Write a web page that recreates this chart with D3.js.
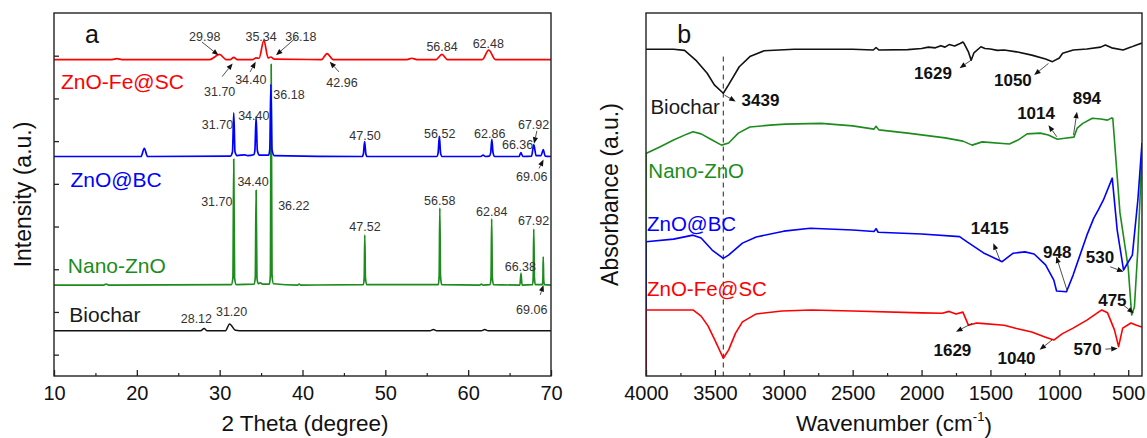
<!DOCTYPE html>
<html>
<head>
<meta charset="utf-8">
<script src="https://cdn.jsdelivr.net/npm/d3@7"></script>
<style>
  body { margin: 0; background: #fff; }
  svg { display: block; }
  text { font-family: "Liberation Sans", Arial, sans-serif; }
</style>
</head>
<body>
<svg id="chart" width="1147" height="438"></svg>
<script>
// ---------- (a) XRD patterns: [2-theta, intensity a.u.] ----------
const xrdBiochar = [[10,56],[27.7,56],[28.12,61],[28.5,56],[30.7,56],[31.2,72],[31.9,57],[32.4,56],
  [55.4,56],[55.8,59],[56.2,56],[61.6,56],[62.0,59],[62.4,56],[70,56]];
const xrdNanoZnO = [[10,163],[16.0,163],[16.3,165],[16.6,163],[31.4,164],[31.6,180],[31.7,458],[31.8,180],[32.0,164],
  [34.15,165],[34.3,180],[34.4,385],[34.5,180],[34.65,166],[34.9,168],[35.2,165],[36.0,165],[36.12,185],[36.22,680],
  [36.32,185],[36.5,166],[39.4,163],[39.6,165],[39.8,163],[47.35,164],[47.45,180],[47.52,280],[47.6,180],[47.75,164],
  [56.4,164],[56.5,185],[56.58,343],[56.66,185],[56.8,164],[61.4,163],[61.6,165],[61.8,163],[62.65,164],[62.76,180],
  [62.84,318],[62.92,180],[63.05,164],[66.25,163],[66.38,191],[66.5,163],[67.78,164],[67.85,180],[67.92,294],[68.0,180],
  [68.1,164],[68.95,164],[69.02,175],[69.06,229],[69.12,175],[69.2,164],[70,163]];
const xrdZnOBC = [[10,464],[20.5,464],[20.9,483],[21.3,464],[31.3,465],[31.55,475],[31.7,566],[31.85,475],[32.1,466],
  [33.0,468],[33.4,466],[34.1,468],[34.25,478],[34.4,557],[34.55,478],[34.8,467],[35.9,467],[36.05,480],[36.18,633],
  [36.32,480],[36.6,466],[47.2,464],[47.35,470],[47.5,499],[47.65,470],[47.8,464],[56.2,464],[56.37,472],[56.52,511],
  [56.67,472],[56.85,464],[61.5,464],[61.8,467],[62.1,464],[62.55,465],[62.72,473],[62.86,504],[63.0,473],[63.2,464],
  [66.15,464],[66.36,473],[66.6,464],[67.65,465],[67.92,492],[68.2,466],[68.8,466],[69.06,480],[69.3,465],[70,464]];
const xrdZnOFeSC = [[10,691],[17.0,691],[17.6,693],[18.2,691],[28.8,691],[29.98,703],[30.8,691],[31.3,691],[31.7,696],
  [32.1,691],[34.0,691],[34.4,695],[34.75,694],[35.34,736],[35.85,695],[36.18,697],[36.6,692],[42.3,691],[42.96,705],
  [43.7,691],[52.6,691],[53.2,694],[53.8,691],[56.1,691],[56.84,703],[57.5,691],[61.7,691],[62.48,713],[63.3,691],[70,691]];

const xrdSeriesNames = ["Biochar", "Nano-ZnO", "ZnO@BC", "ZnO-Fe@SC"];
const xrdXTicks = [10, 20, 30, 40, 50, 60, 70];
const xrdYTicks = [0, 100, 200, 300, 400, 500, 600, 700];

// peak annotations: text, label position, optional arrow [from, to]
const xrdNotes = [
  { t: "29.98", x: 28.2, y: 746, a: [[27.86, 732], [29.87, 701]] },
  { t: "35.34", x: 35.0, y: 746 },
  { t: "36.18", x: 39.8, y: 746, a: [[39.26, 743], [36.8, 701]] },
  { t: "56.84", x: 56.85, y: 722 },
  { t: "62.48", x: 62.43, y: 729 },
  { t: "31.70", x: 30.0, y: 616, a: [[30.3, 651], [31.57, 682]] },
  { t: "34.40", x: 33.76, y: 645, a: [[33.67, 662], [34.35, 686]] },
  { t: "42.96", x: 44.77, y: 638, a: [[44.41, 662], [43.29, 686]] },
  { t: "31.70", x: 29.74, y: 538 },
  { t: "34.40", x: 34.12, y: 559 },
  { t: "36.18", x: 38.37, y: 610 },
  { t: "47.50", x: 47.54, y: 512 },
  { t: "56.52", x: 56.57, y: 519 },
  { t: "62.86", x: 62.6, y: 519 },
  { t: "67.92", x: 67.9, y: 540, a: [[68.3, 524], [67.95, 494]] },
  { t: "66.36", x: 65.97, y: 491 },
  { t: "69.06", x: 67.67, y: 417, a: [[68.56, 436], [69.1, 457]] },
  { t: "31.70", x: 29.65, y: 358 },
  { t: "34.40", x: 34.03, y: 405 },
  { t: "36.22", x: 38.95, y: 350 },
  { t: "47.52", x: 47.54, y: 300 },
  { t: "56.58", x: 56.57, y: 362 },
  { t: "62.84", x: 62.84, y: 335 },
  { t: "67.92", x: 67.9, y: 314 },
  { t: "66.38", x: 66.3, y: 206 },
  { t: "69.06", x: 67.67, y: 105, a: [[68.7, 140], [69.1, 163]] },
  { t: "28.12", x: 27.19, y: 85 },
  { t: "31.20", x: 31.44, y: 100 }
];
const xrdSeriesLabels = [
  { t: "ZnO-Fe@SC", x: 10.85, y: 639, s: 3 },
  { t: "ZnO@BC", x: 11.98, y: 410, s: 2 },
  { t: "Nano-ZnO", x: 11.67, y: 210, s: 1 },
  { t: "Biochar", x: 11.85, y: 93, s: 0 }
];

// ---------- (b) FTIR spectra: [wavenumber cm-1, absorbance a.u.] ----------
const irBiochar = [[4000,90.0],[3800,90.0],[3720,89.7],[3633,86.8],[3556,83.4],[3504,80.2],[3439,77.9],[3401,80.2],
  [3323,85.2],[3246,88.0],[3143,89.6],[2925,90.0],[2500,90.0],[2350,89.8],[2330,90.5],[2310,89.8],[2100,89.9],
  [2000,90.2],[1950,90.6],[1900,90.4],[1860,91.0],[1830,90.6],[1800,91.3],[1760,90.9],[1720,91.6],[1700,92.0],
  [1690,91.5],[1660,89.3],[1640,87.0],[1620,89.0],[1569,90.7],[1540,90.2],[1500,90.1],[1450,89.7],[1400,89.8],
  [1311,89.3],[1200,88.4],[1100,87.3],[1050,86.6],[1000,87.6],[976,88.9],[899,89.8],[800,90.1],[700,90.6],
  [666,91.2],[620,90.4],[537,89.8],[480,90.6],[440,91.2],[400,91.7]];
const irNanoZnO = [[4000,0],[4000,61.3],[3900,63.1],[3800,65.0],[3700,66.7],[3659,67.3],[3600,66.7],[3520,65.0],
  [3452,63.6],[3400,64.2],[3330,66.9],[3246,68.6],[3100,69.1],[2988,69.4],[2729,69.6],[2500,68.9],[2345,68.0],
  [2330,68.8],[2310,67.8],[2100,66.9],[1829,65.6],[1700,64.7],[1633,63.6],[1560,64.5],[1363,63.9],[1300,65.0],
  [1234,66.7],[1138,66.9],[1080,66.4],[1014,65.2],[960,65.5],[894,65.8],[870,68.3],[830,69.6],[760,71.0],
  [700,70.8],[650,70.5],[620,71.1],[612,71.0],[560,45],[500,29.8],[475,16.8],[455,19],[430,35],[400,62]];
const irZnOBC = [[4000,0],[4000,37.0],[3800,37.7],[3659,38.8],[3600,38.0],[3520,34.7],[3439,32.4],[3401,33.3],
  [3300,36.6],[3200,38.3],[3000,39.9],[2808,40.7],[2500,40.2],[2345,39.8],[2330,40.6],[2315,39.6],[2000,39.1],
  [1724,38.4],[1672,37.0],[1550,33.9],[1415,31.5],[1337,33.8],[1250,34.2],[1183,33.6],[1100,30.6],[1040,26.4],
  [1020,23.4],[948,23.2],[900,27.8],[850,33.3],[800,38.8],[750,43.5],[718,45.7],[680,48.5],[616,54.5],[580,40.2],
  [534,29.2],[500,31.4],[470,33.3],[430,48.5],[400,64.2]];
const irZnOFeSC = [[4000,0],[4000,18.2],[3659,18.2],[3600,16.5],[3550,13.8],[3500,9.9],[3439,4.9],[3400,7.2],
  [3350,11.8],[3300,14.9],[3200,17.1],[3014,17.9],[2800,18.2],[2500,17.9],[2000,17.4],[1850,17.3],[1800,17.8],
  [1750,17.1],[1700,17.6],[1660,14.0],[1600,14.6],[1569,14.5],[1400,14.0],[1311,13.1],[1200,12.1],[1100,10.7],
  [1040,9.9],[980,11.6],[900,13.2],[800,15.4],[692,18.2],[650,17.4],[600,12.7],[570,8.1],[540,13.2],[480,14.6],
  [440,14.0],[400,13.5]];

const irXTicks = [4000, 3500, 3000, 2500, 2000, 1500, 1000, 500];
const irOHBand = 3439;

const irNotes = [
  { t: "3439", x: 3169, y: 76.0, a: [[3431, 77.4], [3349, 75.6]] },
  { t: "1629", x: 1917, y: 83.4, a: [[1633, 87.2], [1724, 84.8]] },
  { t: "1050", x: 1337, y: 81.7, a: [[1079, 86.1], [1183, 82.9]] },
  { t: "1014", x: 1169, y: 72.4, a: [[1018, 65.9], [1079, 69.1]] },
  { t: "894", x: 800, y: 76.5, a: [[897, 66.4], [872, 72.8]] },
  { t: "1415", x: 1505, y: 40.7, a: [[1427, 31.5], [1479, 36.6]] },
  { t: "948", x: 1015, y: 34.2, a: [[945, 23.7], [1022, 32.9]] },
  { t: "530", x: 705, y: 32.9, a: [[631, 30.1], [534, 28.7]] },
  { t: "1629", x: 1776, y: 7.2, a: [[1633, 14.5], [1750, 12.2]] },
  { t: "1040", x: 1311, y: 4.9, a: [[1053, 9.9], [1143, 7.2]] },
  { t: "570", x: 795, y: 7.6, a: [[666, 7.4], [576, 7.6]] },
  { t: "475", x: 615, y: 20.9, a: [[538, 19.6], [460, 17.3]] }
];
const irSeriesLabels = [
  { t: "Biochar", x: 3968, y: 74.2, s: 0 },
  { t: "Nano-ZnO", x: 3983, y: 56.7, s: 1 },
  { t: "ZnO@BC", x: 3993, y: 42.1, s: 2 },
  { t: "ZnO-Fe@SC", x: 3993, y: 24.2, s: 3 }
];

const colors = ["#111111", "#1c8c1c", "#0000ff", "#ff0000"];
const textColors = ["#1a1a1a", "#1c8c1c", "#0000ff", "#ff0000"];

// ---------- drawing ----------
const svg = d3.select("#chart");
const plotTop = 13, plotBottom = 376;

const xrdX = d3.scaleLinear().domain([10, 70]).range([54, 551]);
const xrdY = d3.scaleLinear().domain([-50, 800]).range([plotBottom, plotTop]);
const irX = d3.scaleLinear().domain([4000, 400]).range([646, 1142]);
const irY = d3.scaleLinear().domain([0, 100]).range([plotBottom, plotTop]);

const defs = svg.append("defs");
function clip(id, x0, x1) {
  defs.append("clipPath").attr("id", id).append("rect")
    .attr("x", x0).attr("y", plotTop).attr("width", x1 - x0).attr("height", plotBottom - plotTop);
}
clip("clipA", 54, 551);
clip("clipB", 646, 1142);

function arrow(g, x1, y1, x2, y2) {
  const ang = Math.atan2(y2 - y1, x2 - x1);
  const L = 6.5, W = 2.6;
  const bx = x2 - L * Math.cos(ang), by = y2 - L * Math.sin(ang);
  g.append("line").attr("x1", x1).attr("y1", y1).attr("x2", bx).attr("y2", by)
    .attr("stroke", "#222").attr("stroke-width", 0.8);
  g.append("path")
    .attr("d", `M${x2},${y2}L${bx + W * Math.sin(ang)},${by - W * Math.cos(ang)}L${bx - W * Math.sin(ang)},${by + W * Math.cos(ang)}Z`)
    .attr("fill", "#111");
}

function frameAndAxes(x, y, xTicks, minorTicks, x0, x1, yTicks) {
  const g = svg.append("g");
  g.append("g").attr("transform", `translate(0,${plotBottom})`)
    .call(d3.axisBottom(x).tickValues(minorTicks).tickSize(-3).tickFormat(""))
    .call(s => s.select(".domain").remove())
    .call(s => s.selectAll("line").attr("stroke", "#222").attr("stroke-width", 1.2));
  g.append("g").attr("transform", `translate(0,${plotBottom})`)
    .call(d3.axisBottom(x).tickValues(xTicks).tickSize(-6).tickPadding(10).tickFormat(d3.format("d")))
    .call(s => s.select(".domain").remove())
    .call(s => s.selectAll("line").attr("stroke", "#222").attr("stroke-width", 1.3))
    .call(s => s.selectAll("text").attr("font-size", 20).attr("fill", "#111")
      .attr("font-family", "'Liberation Sans', Arial, sans-serif"));
  if (yTicks) {
    g.append("g").attr("transform", `translate(${x0},0)`)
      .call(d3.axisLeft(y).tickValues(yTicks).tickSize(-5).tickFormat(""))
      .call(s => s.select(".domain").remove())
      .call(s => s.selectAll("line").attr("stroke", "#222").attr("stroke-width", 1.3));
  }
  g.append("rect").attr("x", x0).attr("y", plotTop).attr("width", x1 - x0).attr("height", plotBottom - plotTop)
    .attr("fill", "none").attr("stroke", "#222").attr("stroke-width", 1.4);
}

// ----- panel (a) -----
const gA = svg.append("g");
const xrdLine = d3.line().x(d => xrdX(d[0])).y(d => xrdY(d[1])).curve(d3.curveMonotoneX);
const xrdData = [xrdBiochar, xrdNanoZnO, xrdZnOBC, xrdZnOFeSC];
const plotA = gA.append("g").attr("clip-path", "url(#clipA)");
xrdData.forEach((s, i) => {
  plotA.append("path").datum(s).attr("d", xrdLine)
    .attr("fill", "none").attr("stroke", colors[i]).attr("stroke-width", i === 0 ? 1.5 : 1.7)
    .attr("stroke-linejoin", "round");
});
frameAndAxes(xrdX, xrdY, xrdXTicks, d3.range(15, 70, 10), 54, 551, xrdYTicks);

const notesA = gA.append("g");
xrdNotes.forEach(n => {
  notesA.append("text").attr("x", xrdX(n.x)).attr("y", xrdY(n.y)).attr("dy", "0.36em")
    .attr("text-anchor", "middle").attr("font-size", 12.5).attr("fill", "#333").text(n.t);
  if (n.a) arrow(notesA, xrdX(n.a[0][0]), xrdY(n.a[0][1]), xrdX(n.a[1][0]), xrdY(n.a[1][1]));
});
xrdSeriesLabels.forEach(l => {
  gA.append("text").attr("x", xrdX(l.x)).attr("y", xrdY(l.y)).attr("dy", "0.36em")
    .attr("font-size", 21).attr("fill", textColors[l.s]).text(l.t);
});
gA.append("text").attr("x", xrdX(14.58)).attr("y", xrdY(748)).attr("dy", "0.32em")
  .attr("text-anchor", "middle").attr("font-family", "'Liberation Serif', 'Times New Roman', serif")
  .attr("font-size", 25).attr("fill", "#111").text("a");
gA.append("text").attr("transform", `translate(23,${(plotTop + plotBottom) / 2}) rotate(-90)`)
  .attr("text-anchor", "middle").attr("dy", "0.36em").attr("font-size", 23).attr("fill", "#111")
  .text("Intensity (a.u.)");
gA.append("text").attr("x", 305).attr("y", 431).attr("text-anchor", "middle")
  .attr("font-size", 22.5).attr("fill", "#111").text("2 Theta (degree)");

// ----- panel (b) -----
const gB = svg.append("g");
const plotB = gB.append("g").attr("clip-path", "url(#clipB)");
plotB.append("line").attr("x1", irX(irOHBand)).attr("x2", irX(irOHBand))
  .attr("y1", irY(88)).attr("y2", irY(0))
  .attr("stroke", "#222").attr("stroke-width", 1).attr("stroke-dasharray", "5,4");
const irData = [irBiochar, irNanoZnO, irZnOBC, irZnOFeSC];
const irLine = d3.line().x(d => irX(d[0])).y(d => irY(d[1]));
irData.forEach((s, i) => {
  plotB.append("path").datum(s).attr("d", irLine)
    .attr("fill", "none").attr("stroke", colors[i]).attr("stroke-width", 1.6)
    .attr("stroke-linejoin", "round");
});
frameAndAxes(irX, irY, irXTicks, d3.range(3750, 400, -500), 646, 1142, null);

const notesB = gB.append("g");
irNotes.forEach(n => {
  notesB.append("text").attr("x", irX(n.x)).attr("y", irY(n.y)).attr("dy", "0.36em")
    .attr("text-anchor", "middle").attr("font-size", 17).attr("font-weight", "bold")
    .attr("fill", "#111").text(n.t);
  arrow(notesB, irX(n.a[0][0]), irY(n.a[0][1]), irX(n.a[1][0]), irY(n.a[1][1]));
});
irSeriesLabels.forEach(l => {
  gB.append("text").attr("x", irX(l.x)).attr("y", irY(l.y)).attr("dy", "0.36em")
    .attr("font-size", 20.5).attr("fill", textColors[l.s]).text(l.t);
});
gB.append("text").attr("x", irX(3723)).attr("y", irY(93.9)).attr("dy", "0.32em")
  .attr("text-anchor", "middle").attr("font-family", "'Liberation Serif', 'Times New Roman', serif")
  .attr("font-size", 25).attr("fill", "#111").text("b");
gB.append("text").attr("transform", `translate(610,${(plotTop + plotBottom) / 2}) rotate(-90)`)
  .attr("text-anchor", "middle").attr("dy", "0.36em").attr("font-size", 23).attr("fill", "#111")
  .text("Absorbance (a.u.)");
const wt = gB.append("text").attr("x", 894).attr("y", 431).attr("text-anchor", "middle")
  .attr("font-size", 22.5).attr("fill", "#111");
wt.append("tspan").text("Wavenumber (cm");
wt.append("tspan").attr("font-size", 13).attr("dy", "-0.75em").text("-1");
wt.append("tspan").attr("dy", "0.52em").text(")");
</script>
</body>
</html>
